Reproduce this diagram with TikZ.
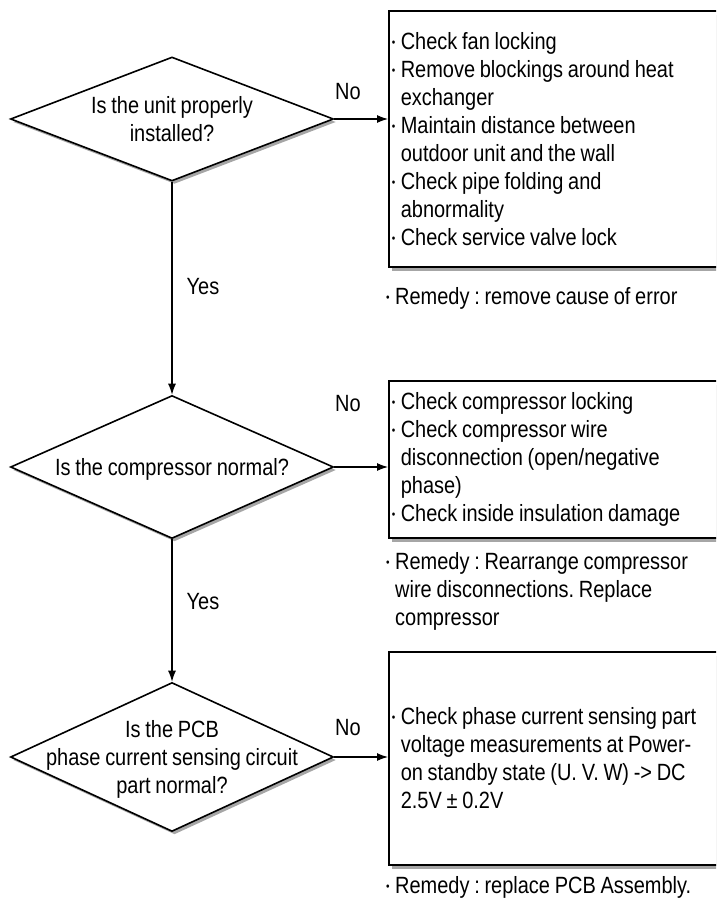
\documentclass[tikz,border=0pt]{standalone}
\usepackage{graphicx}
\usepackage{fontspec}
\setmainfont{Liberation Sans}[FakeStretch=0.85, WordSpace=0.85]
\usetikzlibrary{shapes.geometric,shadows,arrows.meta}
\frenchspacing
\newcommand\bul{\makebox[9pt][l]{\raisebox{0.13em}{\scalebox{0.5}{\textbullet}}}}
\newcommand\ind{\hspace*{9pt}}
% text that must not widen the diamond
\newcommand\dtext[1]{\smash{\makebox[0pt]{\raisebox{-0.4em}{\begin{tabular}{@{}c@{}}#1\end{tabular}}}}}

\begin{document}
\begin{tikzpicture}[
  x=1pt, y=-1pt,
  % Global text styling
  every node/.style={font=\fontsize{23.5}{28}\selectfont, inner sep=0pt},
  % Specific styles
  decision/.style={diamond, draw, line width=1.6pt, fill=white,
    minimum width=323pt,
    drop shadow={shadow xshift=2.5pt, shadow yshift=-3pt, fill=black!35, opacity=1}},
  infobox/.style={draw, line width=1.6pt, fill=white, anchor=north west, align=flush left,
    text width=326pt, inner xsep=3pt,
    drop shadow={shadow xshift=3pt, shadow yshift=-4pt, fill=black!35, opacity=1}},
  remedy/.style={anchor=west, align=flush left},
  flow/.style={line width=1.1pt, -{Latex[length=11pt,width=8pt]}},
  answer/.style={}
]
\useasboundingbox (0,0) rectangle (716,901);
\clip (0,0) rectangle (716,901);

% Decisions
\node[decision, minimum height=124pt] (unit) at (172,119) {\dtext{Is the unit properly\\installed?}};
\node[decision, minimum height=143pt] (comp) at (172,467) {\dtext{Is the compressor normal?}};
\node[decision, minimum height=149pt] (pcb) at (172,757) {\dtext{Is the PCB\\phase current sensing circuit\\part normal?}};

% Check boxes
\node[infobox, minimum height=256pt] (chkunit) at (388,10) {%
  \bul Check fan locking\\
  \bul Remove blockings around heat\\
  \ind exchanger\\
  \bul Maintain distance between\\
  \ind outdoor unit and the wall\\
  \bul Check pipe folding and\\
  \ind abnormality\\
  \bul Check service valve lock};
\node[infobox, minimum height=157pt] (chkcomp) at (388,380) {%
  \bul Check compressor locking\\
  \bul Check compressor wire\\
  \ind disconnection (open/negative\\
  \ind phase)\\
  \bul Check inside insulation damage};
\node[infobox, minimum height=213pt] (chkpcb) at (388,651) {%
  \bul Check phase current sensing part\\
  \ind voltage measurements at Power-\\
  \ind on standby state (U. V. W) -> DC\\
  \ind 2.5V ± 0.2V};

% Remedies
\node[remedy] (remunit) at (386,298) {\bul Remedy : remove cause of error};
\node[remedy] (remcomp) at (386,591) {\bul Remedy : Rearrange compressor\\
  \ind wire disconnections. Replace\\
  \ind compressor};
\node[remedy] (rempcb) at (386,887) {\bul Remedy : replace PCB Assembly.};

% Answers
\node[answer] (no1) at (348,92) {No};
\node[answer] (no2) at (348,404) {No};
\node[answer] (no3) at (348,728) {No};
\node[answer] (yes1) at (203,287) {Yes};
\node[answer] (yes2) at (203,602) {Yes};

% Connectors
\draw[flow] (unit.east) -- (unit.east -| chkunit.west);
\draw[flow] (comp.east) -- (comp.east -| chkcomp.west);
\draw[flow] (pcb.east) -- (pcb.east -| chkpcb.west);
\draw[flow] (unit.south) -- (comp.north);
\draw[flow] (comp.south) -- (pcb.north);

\end{tikzpicture}
\end{document}
